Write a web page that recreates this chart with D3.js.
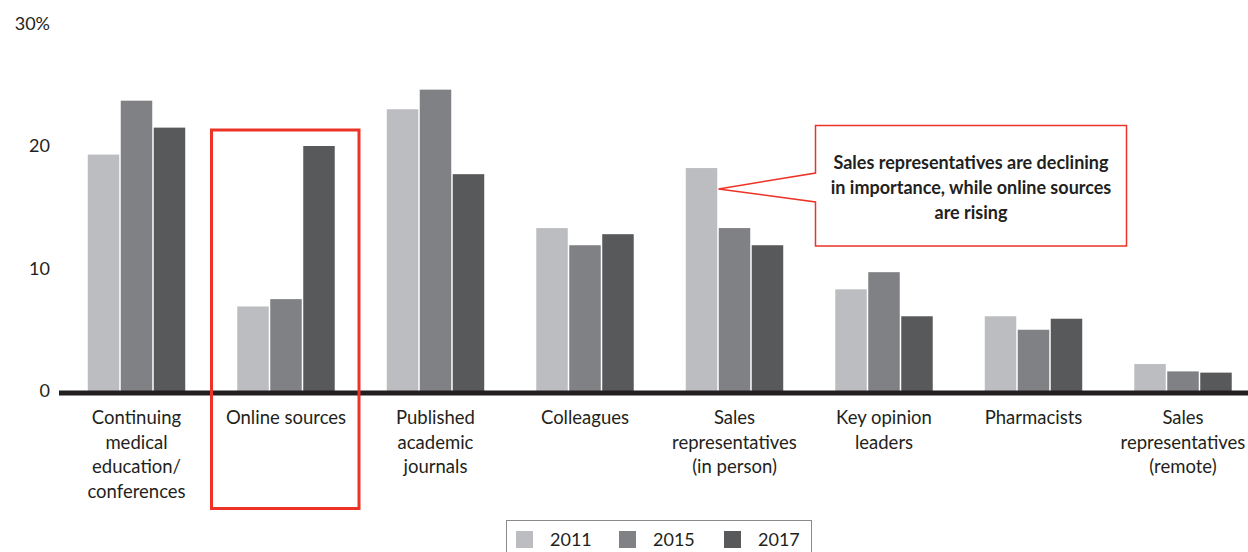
<!DOCTYPE html>
<html><head><meta charset="utf-8">
<script src="https://cdn.jsdelivr.net/npm/d3@7"></script>
<style>
body{margin:0;background:#fff;}
svg{display:block;font-family:"Lato","Open Sans",sans-serif;}
</style></head>
<body><svg id="chart" width="1248" height="552"></svg>
<script>
const categories = [
  ["Continuing","medical","education/","conferences"],
  ["Online sources"],
  ["Published","academic","journals"],
  ["Colleagues"],
  ["Sales","representatives","(in person)"],
  ["Key opinion","leaders"],
  ["Pharmacists"],
  ["Sales","representatives","(remote)"]
];
const years = ["2011","2015","2017"];
const values2011 = [19.3, 6.9, 23.0, 13.3, 18.2, 8.3, 6.1, 2.2];
const values2015 = [23.7, 7.5, 24.6, 11.9, 13.3, 9.7, 5.0, 1.6];
const values2017 = [21.5, 20.0, 17.7, 12.8, 11.9, 6.1, 5.9, 1.5];
const yTicks = [0, 10, 20, 30];
const colors = ["#bcbdc0", "#808184", "#58595b"];
const calloutLines = ["Sales representatives are declining","in importance, while online sources","are rising"];

const series = [values2011, values2015, values2017];
const svg = d3.select("#chart");
const ink = "#231f20";
const catIdx = categories.map((c,i)=>i);

const x = d3.scaleBand().domain(catIdx).range([61.75, 1257.75]).paddingInner(0.338).paddingOuter(0.169);
const xi = d3.scaleBand().domain(years).range([0, x.bandwidth()]);
const y = d3.scaleLinear().domain([0, 30]).range([391, 23.5]);

// y tick labels
svg.append("g").selectAll("text").data(yTicks).join("text")
  .attr("x", 50).attr("y", d => y(d)).attr("dy", "0.35em")
  .attr("text-anchor", "end").attr("font-size", 18).attr("fill", ink)
  .text(d => d === 30 ? "30%" : d);

// bars
const gBars = svg.append("g");
years.forEach((yr, s) => {
  gBars.append("g").selectAll("rect").data(series[s]).join("rect")
    .attr("x", (d,i) => x(i) + xi(yr) + 0.75)
    .attr("width", xi.bandwidth() - 1.5)
    .attr("y", d => y(d))
    .attr("height", d => y(0) - y(d))
    .attr("fill", colors[s]);
});

// baseline axis
svg.append("rect").attr("x", 59).attr("y", y(0) - 0.5).attr("width", 1248 - 59).attr("height", 5).attr("fill", ink);

// category labels
const gLab = svg.append("g");
categories.forEach((lines, i) => {
  const t = gLab.append("text").attr("text-anchor", "middle").attr("font-size", 18.5).attr("fill", ink);
  lines.forEach((ln, j) => {
    t.append("tspan").attr("x", x(i) + x.bandwidth()/2).attr("y", 418 + j*24.5).attr("dy", "0.35em").text(ln);
  });
});

// red highlight box around Online sources
svg.append("rect").attr("x", 211.5).attr("y", 130).attr("width", 147.5).attr("height", 378.5)
  .attr("fill", "none").attr("stroke", "#ec3325").attr("stroke-width", 3);

// callout
const bx0 = 815.5, bx1 = 1126.5, by0 = 125.5, by1 = 246;
const tipX = x(4) + xi("2015") + 0.5, tipY = 189;
const path = d3.path();
path.moveTo(bx0, by0); path.lineTo(bx1, by0); path.lineTo(bx1, by1); path.lineTo(bx0, by1);
path.lineTo(bx0, 202); path.lineTo(tipX, tipY); path.lineTo(bx0, 173); path.closePath();
svg.append("path").attr("d", path.toString()).attr("fill", "#fff").attr("stroke", "#ec3325").attr("stroke-width", 1.5);
const ct = svg.append("text").attr("text-anchor", "middle").attr("font-size", 18).attr("font-weight", "bold").attr("fill", ink);
calloutLines.forEach((ln, j) => {
  ct.append("tspan").attr("x", (bx0 + bx1)/2).attr("y", 163 + j*25).attr("dy", "0.35em").text(ln);
});

// legend
svg.append("rect").attr("x", 506.5).attr("y", 520.5).attr("width", 305).attr("height", 40)
  .attr("fill", "none").attr("stroke", "#8a8a8c").attr("stroke-width", 1);
const legX = [516, 619, 724];
years.forEach((yr, s) => {
  svg.append("rect").attr("x", legX[s]).attr("y", 531).attr("width", 17).attr("height", 17).attr("fill", colors[s]);
  svg.append("text").attr("x", legX[s] + 34).attr("y", 540).attr("dy", "0.35em")
    .attr("font-size", 18).attr("fill", ink).text(yr);
});
</script></body></html>
